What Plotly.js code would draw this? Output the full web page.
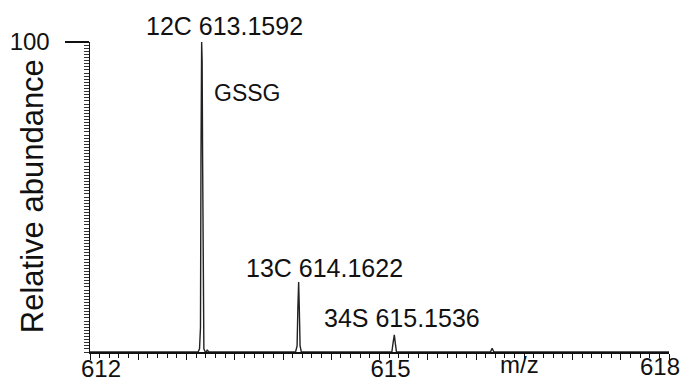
<!DOCTYPE html>
<html>
<head>
<meta charset="utf-8">
<script src="https://cdn.plot.ly/plotly-3.0.1.min.js"></script>
<style>html,body{margin:0;padding:0;background:#fff;}#chart{width:686px;height:381px;}</style>
</head>
<body>
<div id="chart"></div>
<script>
// Profile spectrum (m/z vs relative abundance)
const mz = [612.000, 613.120, 613.135, 613.145, 613.150, 613.157, 613.162, 613.167, 613.172, 613.180, 613.195,
            613.205, 613.215, 613.230, 614.130, 614.146, 614.154, 614.1622, 614.169, 614.177, 614.190,
            615.128, 615.141, 615.1536, 615.163, 615.176, 616.150, 616.167, 616.185, 618.000];
const abundance = [0, 0, 1, 8, 62, 100, 94, 62, 8, 1, 0,
                   0, 0.7, 0, 0, 2, 14, 22.6, 14, 2, 0,
                   0, 3, 5.5, 3, 0, 0, 1.2, 0, 0];

const peakLabels = ["12C 613.1592", "13C 614.1622", "34S 615.1536", "GSSG"];
const peakLabelX = [613.389, 614.425, 615.233, 613.627];
const peakLabelY = [1.053, 0.271, 0.110, 0.835];   // fraction of the plot height
const peakLabelSize = [25, 25, 25, 23];

const xTickVals = [612, 612.5, 613, 613.5, 614, 614.5, 615, 615.5, 616, 616.5, 617, 617.5, 618];
const xTickText = ["612", "", "", "", "", "", "615", "", "", "", "", "", ""];

const FONT = "Liberation Sans, Arial, sans-serif";

const annotations = peakLabels.map((t, i) => ({
  x: peakLabelX[i], y: peakLabelY[i], xref: "x", yref: "paper",
  text: t, showarrow: false, font: {family: FONT, size: peakLabelSize[i], color: "#111"},
  xanchor: "center", yanchor: "middle"
}));
annotations.push({x: 618, y: -0.046, xref: "x", yref: "paper", text: "618", showarrow: false,
  font: {family: FONT, size: 24, color: "#111"}, xanchor: "right", yanchor: "middle", xshift: 13});
annotations.push({x: 616.446, y: -0.04, xref: "x", yref: "paper", text: "m/z", showarrow: false,
  font: {family: FONT, size: 24, color: "#111"}, xanchor: "center", yanchor: "middle"});
annotations.push({x: -0.1, y: 0.503, xref: "paper", yref: "paper", text: "Relative abundance", showarrow: false,
  textangle: -90, font: {family: FONT, size: 31, color: "#111"}, xanchor: "center", yanchor: "middle"});

const trace = {
  x: mz, y: abundance, type: "scatter", mode: "lines",
  line: {color: "#222", width: 1.4}, hoverinfo: "x+y"
};

const layout = {
  width: 686, height: 381,
  margin: {l: 90, r: 17, t: 42, b: 29, pad: 0},
  paper_bgcolor: "#fff", plot_bgcolor: "#fff",
  showlegend: false,
  xaxis: {
    range: [612, 618], showgrid: false, zeroline: false,
    showline: true, linecolor: "#111", linewidth: 1.5,
    tickmode: "array", tickvals: xTickVals, ticktext: xTickText,
    ticks: "outside", ticklen: 6, tickwidth: 1, tickcolor: "#111",
    ticklabelshift: 11, ticklabelstandoff: -11,
    tickfont: {family: FONT, size: 24, color: "#111"},
    minor: {tickmode: "linear", tick0: 612, dtick: 0.1, ticks: "outside", ticklen: 4, tickwidth: 1, tickcolor: "#111", showgrid: false}
  },
  yaxis: {
    range: [0, 100], showgrid: false, zeroline: false,
    showline: true, linecolor: "#111", linewidth: 1.5,
    tickmode: "array", tickvals: [100], ticktext: ["100"],
    ticks: "outside", ticklen: 24, tickwidth: 1.5, tickcolor: "#111",
    ticklabelstandoff: 10,
    tickfont: {family: FONT, size: 24, color: "#111"},
    minor: {tickmode: "linear", tick0: 0, dtick: 1, ticks: "outside", ticklen: 5, tickwidth: 1, tickcolor: "#333", showgrid: false}
  },
  annotations: annotations
};

Plotly.newPlot("chart", [trace], layout, {displayModeBar: false, staticPlot: true});
</script>
</body>
</html>
